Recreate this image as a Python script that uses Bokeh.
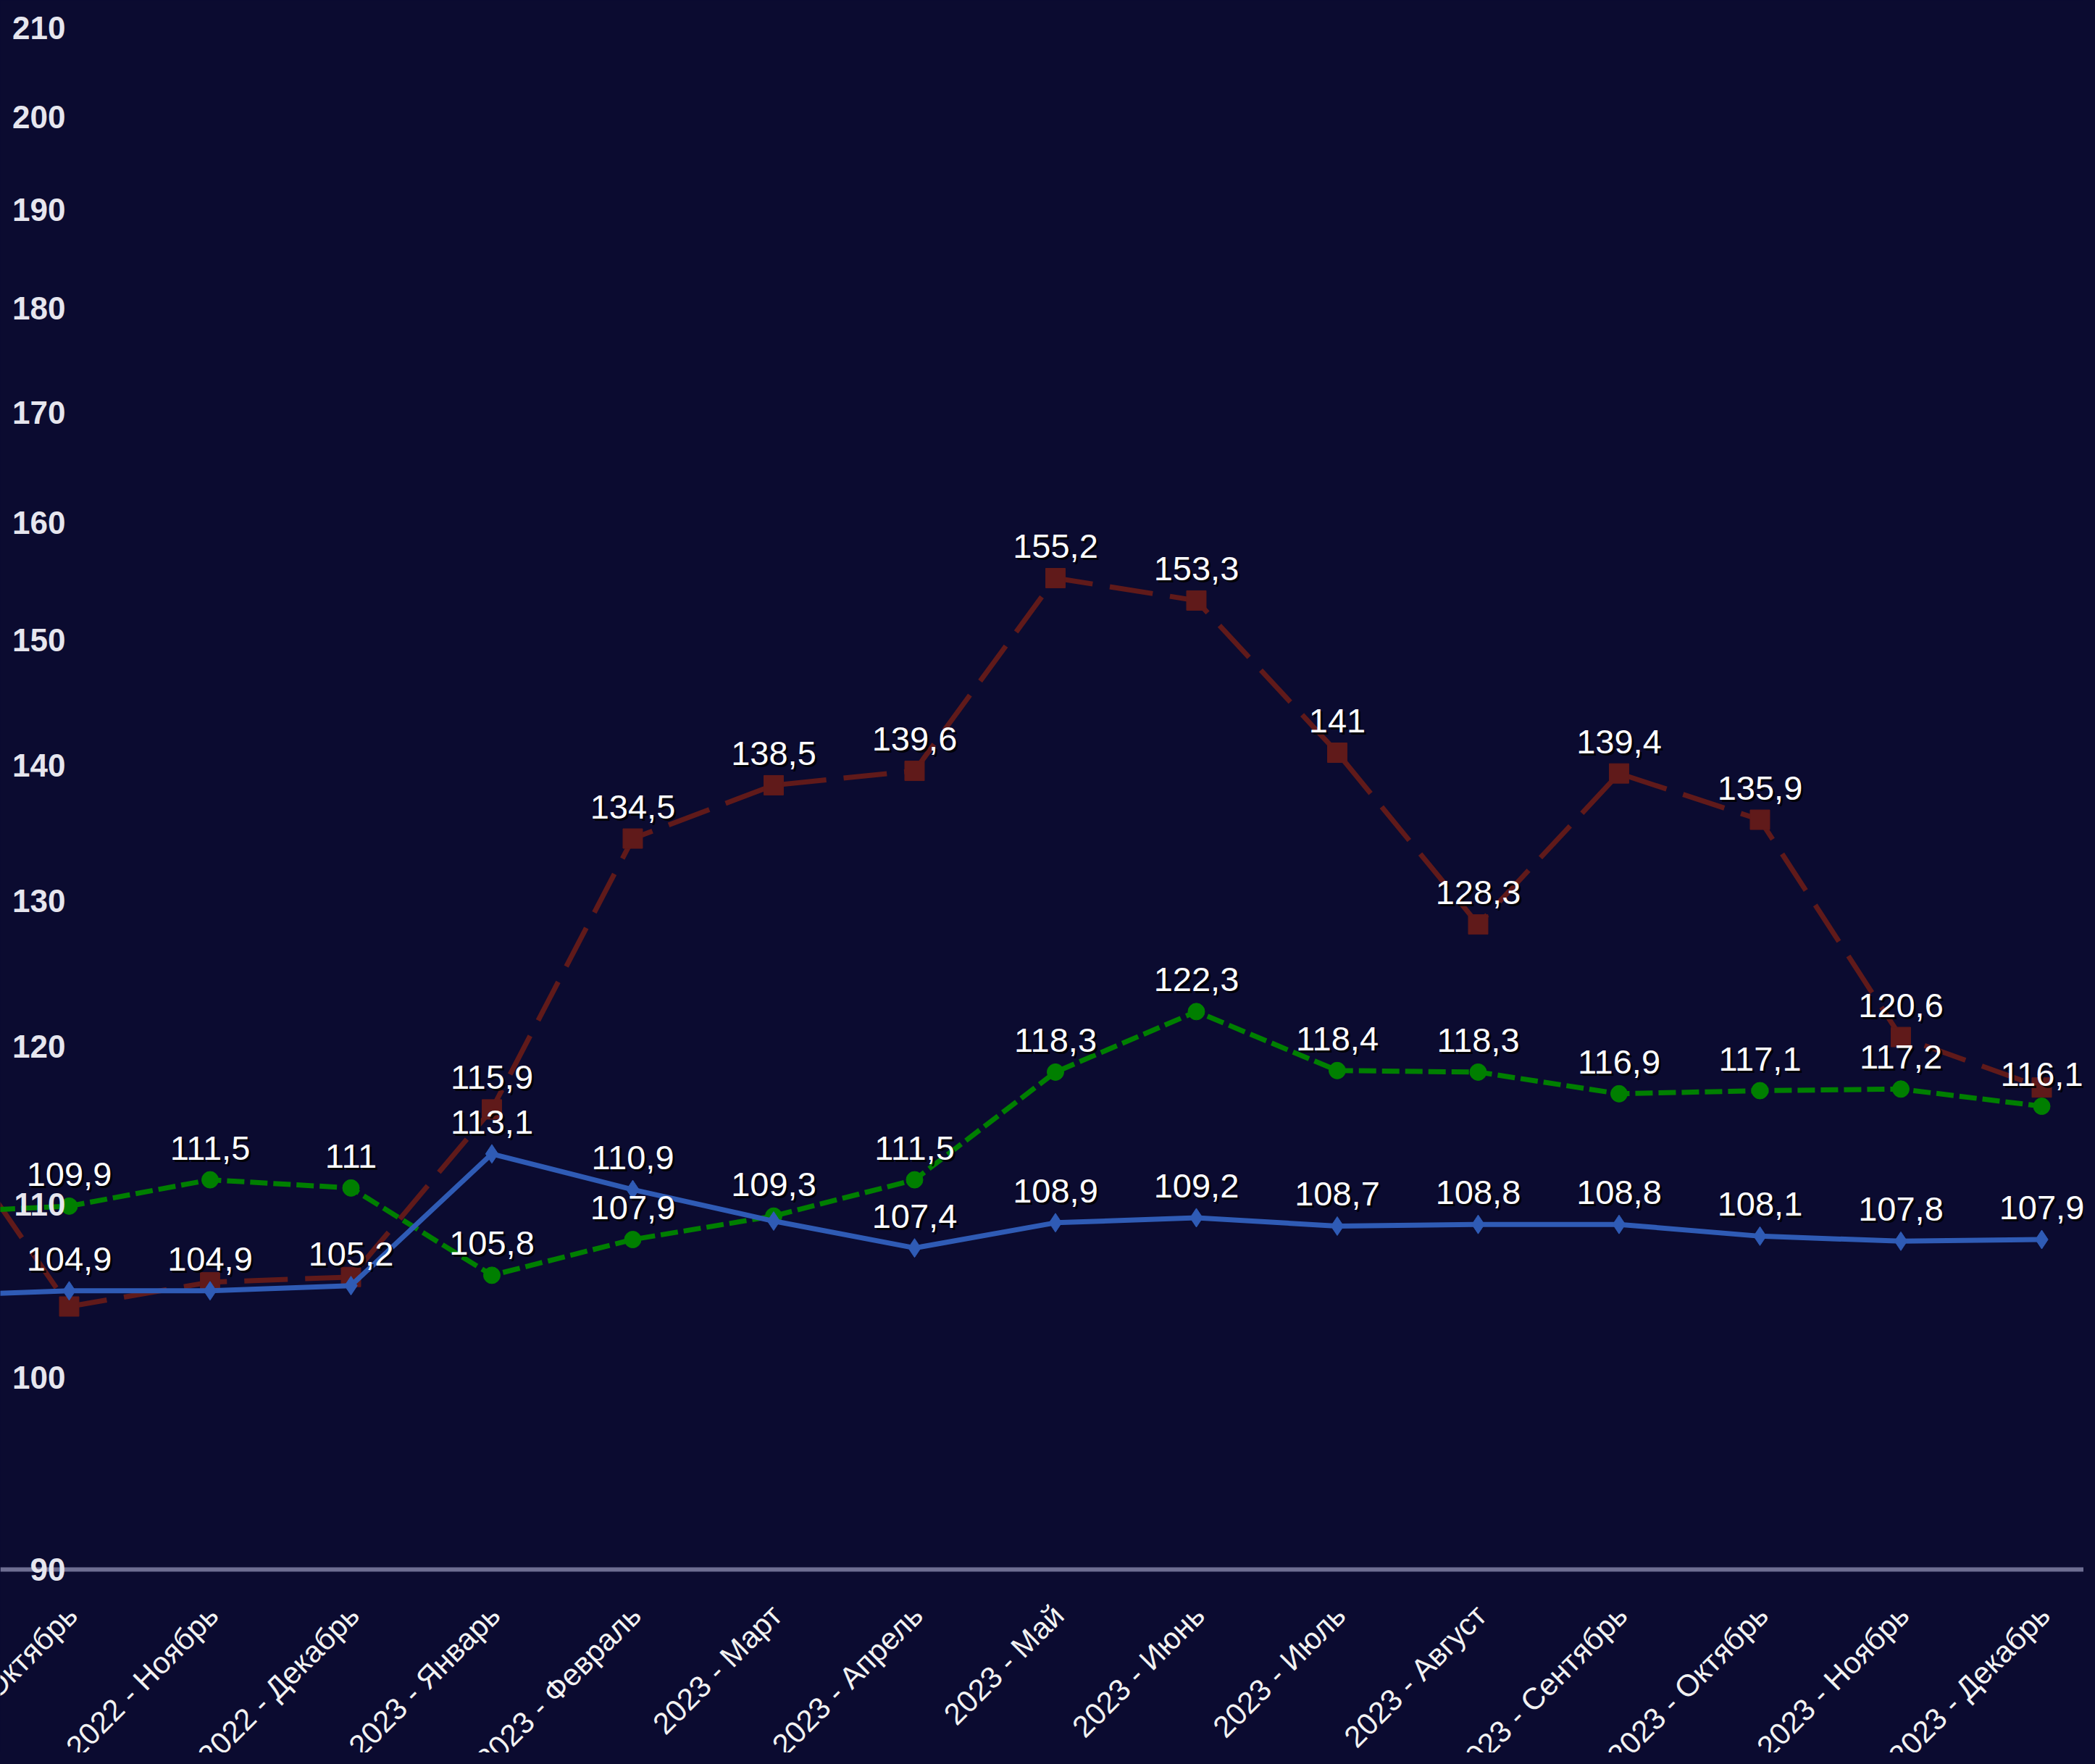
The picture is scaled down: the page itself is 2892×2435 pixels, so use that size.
import math
from bokeh.plotting import figure
from bokeh.models import ColumnDataSource, Range1d, LabelSet, Span
from bokeh.core.properties import value
from bokeh.embed import file_html
from bokeh.resources import INLINE

# ---------------- data ----------------
categories = ["2022 - Сентябрь", "2022 - Октябрь", "2022 - Ноябрь", "2022 - Декабрь",
              "2023 - Январь", "2023 - Февраль", "2023 - Март", "2023 - Апрель",
              "2023 - Май", "2023 - Июнь", "2023 - Июль", "2023 - Август",
              "2023 - Сентябрь", "2023 - Октябрь", "2023 - Ноябрь", "2023 - Декабрь"]
blue_values = [104.6, 104.9, 104.9, 105.2, 113.1, 110.9, 109.0, 107.4, 108.9, 109.2,
               108.7, 108.8, 108.8, 108.1, 107.8, 107.9]
green_values = [109.5, 109.9, 111.5, 111.0, 105.8, 107.9, 109.3, 111.5, 118.3, 122.3,
                118.4, 118.3, 116.9, 117.1, 117.2, 116.1]
red_values = [116.4, 104.0, 105.4, 105.7, 115.9, 134.5, 138.5, 139.6, 155.2, 153.3,
              141.0, 128.3, 139.4, 135.9, 120.6, 117.3]
# which value labels are visible in the reference (others hidden by overlap)
blue_shown = [0, 1, 1, 1, 1, 1, 0, 1, 1, 1, 1, 1, 1, 1, 1, 1]
green_shown = [0, 1, 1, 1, 1, 1, 1, 1, 1, 1, 1, 1, 1, 1, 1, 1]
red_shown = [0, 0, 0, 0, 1, 1, 1, 1, 1, 1, 1, 1, 1, 1, 1, 0]
y_ticks = [90, 100, 110, 120, 130, 140, 150, 160, 170, 180, 190, 200, 210]

BG = "#0b0b30"
BLUE = "#2f5bb5"
GREEN = "#007f00"
RED = "#601a1a"
FONT = "Liberation Sans"


def fmt(v):
    s = ("%.1f" % v).rstrip("0").rstrip(".")
    return s.replace(".", ",")


xs = list(range(len(categories)))

# the frame covers the whole canvas; the value axis baseline (90) sits 253px
# above the bottom edge, leaving room for the rotated category labels
p = figure(width=2876, height=2419, output_backend="svg", toolbar_location=None,
           y_axis_type="log", x_axis_location=None, y_axis_location=None,
           x_range=Range1d(0.5116, 15.2982), y_range=Range1d(81.38, 213.2),
           min_border=0)
p.background_fill_color = BG
p.border_fill_color = BG
p.outline_line_color = None
p.xgrid.visible = False
p.ygrid.visible = False

try:
    from bokeh.models import GlobalInlineStyleSheet
    p.stylesheets = [GlobalInlineStyleSheet(css="html, body { background: %s; }" % BG)]
except Exception:
    pass

# category axis line at the bottom value
p.add_layout(Span(location=y_ticks[0], dimension="width",
                  line_color="#6e6e92", line_width=6))

series = [
    (red_values, red_shown, RED, "60 24", "square", 27),
    (green_values, green_shown, GREEN, "24 8", "circle", 23),
    (blue_values, blue_shown, BLUE, "solid", "diamond", 26),
]

for vals, shown, color, dash, marker, size in series:
    src = ColumnDataSource(dict(x=xs, y=vals))
    p.line("x", "y", source=src, line_color=color, line_width=7, line_dash=dash)
    p.scatter("x", "y", source=src, marker=marker, size=size,
              fill_color=color, line_color=color)

for vals, shown, color, dash, marker, size in series:
    lx = [x for x, s in zip(xs, shown) if s]
    ly = [v for v, s in zip(vals, shown) if s]
    lt = [fmt(v) for v, s in zip(vals, shown) if s]
    lsrc = ColumnDataSource(dict(x=lx, y=ly, t=lt))
    p.text("x", "y", text="t", source=lsrc, text_font=value(FONT),
           text_font_size="47px", text_color="#000000", text_alpha=0.85,
           text_align="center", text_baseline="alphabetic",
           x_offset=3, y_offset=-41)
    p.text("x", "y", text="t", source=lsrc, text_font=value(FONT),
           text_font_size="47px", text_color="#ffffff",
           text_align="center", text_baseline="alphabetic",
           x_offset=0, y_offset=-44)

# category labels under the axis line, rotated 45 degrees
csrc = ColumnDataSource(dict(x=xs, y=[y_ticks[0]] * len(xs), t=categories))
p.text("x", "y", text="t", source=csrc, angle=math.pi / 4,
       text_font=value(FONT), text_font_size="42px", text_color="#f2f2f2",
       text_align="right", text_baseline="middle", x_offset=4, y_offset=56)

# y tick labels drawn inside the plot at the left
ysrc = ColumnDataSource(dict(y=y_ticks, t=[str(v) for v in y_ticks]))
p.add_layout(LabelSet(x=90, y="y", text="t", x_units="screen", source=ysrc,
                      text_font=value(FONT), text_font_size="44px",
                      text_font_style="bold", text_color="#e6e6ee",
                      text_align="right", text_baseline="middle"))

open("out.html", "w").write(file_html(p, INLINE))
